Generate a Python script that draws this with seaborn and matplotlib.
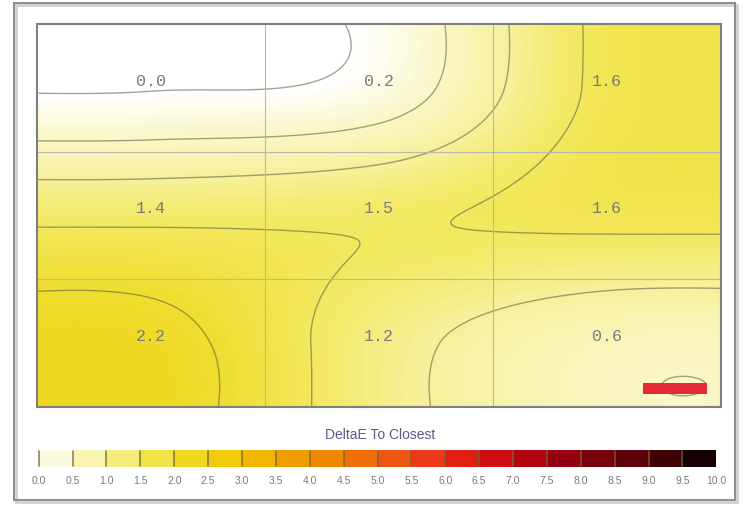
import numpy as np
import matplotlib
matplotlib.use("Agg")
import matplotlib.pyplot as plt
import seaborn as sns
from matplotlib.colors import LinearSegmentedColormap
from matplotlib.patches import Rectangle

# ---------------- data ----------------
row_values = [
    [0.0, 0.2, 1.6],
    [1.4, 1.45, 1.6],
    [2.2, 1.2, 0.617],
]
row_labels = [
    ["0.0", "0.2", "1.6"],
    ["1.4", "1.5", "1.6"],
    ["2.2", "1.2", "0.6"],
]
scale_ticks = [0.0, 0.5, 1.0, 1.5, 2.0, 2.5, 3.0, 3.5, 4.0, 4.5, 5.0,
               5.5, 6.0, 6.5, 7.0, 7.5, 8.0, 8.5, 9.0, 9.5, 10.0]
scale_tick_labels = ["0.0", "0.5", "1.0", "1.5", "2.0", "2.5", "3.0", "3.5",
                     "4.0", "4.5", "5.0", "5.5", "6.0", "6.5", "7.0", "7.5",
                     "8.0", "8.5", "9.0", "9.5", "10.0"]
scale_title = "DeltaE To Closest"
contour_levels = [0.02, 0.5, 1.0, 1.5, 2.0]

# colour ramp of the scale
ramp_stops = [0.0, 0.25, 0.5, 1.0, 1.5, 2.0, 2.5, 3.0, 3.5, 4.0, 4.5, 5.0,
              5.5, 6.0, 6.5, 7.0, 7.5, 8.0, 8.5, 9.0, 9.5, 10.0]
ramp_colors = ["#ffffff", "#fcfadc", "#faf6c2", "#f6f09a", "#f2e85c", "#efdd2e",
               "#eed318", "#f0c200", "#f0aa00", "#f09200", "#f07a00", "#ee6210",
               "#ee4a18", "#ea2c18", "#d81410", "#c00810", "#a20010", "#88000e",
               "#6c000c", "#500008", "#2c0004", "#000000"]
cmap = LinearSegmentedColormap.from_list(
    "deltae", list(zip([s / 10.0 for s in ramp_stops], ramp_colors)))

# ---------------- smooth field (bicubic, clamped edges) ----------------
Z = np.array(row_values, dtype=float)
NY, NX = 170, 300


def cubic_matrix(n, m):
    W = np.zeros((n, m))
    for k in range(n):
        s = (k + 0.5) / n * m - 0.5
        i = int(np.floor(s))
        t = s - i
        w = [-0.5 * t + t * t - 0.5 * t ** 3,
             1 - 2.5 * t * t + 1.5 * t ** 3,
             0.5 * t + 2 * t * t - 1.5 * t ** 3,
             -0.5 * t * t + 0.5 * t ** 3]
        for d, wd in zip(range(-1, 3), w):
            idx = min(max(i + d, 0), m - 1)
            W[k, idx] += wd
    return W


field = cubic_matrix(NY, 3) @ Z @ cubic_matrix(NX, 3).T

# ---------------- figure ----------------
sns.set_theme(style="white")
plt.rcParams["font.family"] = ["Liberation Sans", "DejaVu Sans"]
fig = plt.figure(figsize=(7.45, 5.06), dpi=100)
fig.patch.set_facecolor("white")

# outer frame with a soft shadow
fig.add_artist(Rectangle((16 / 745, 1 - 503 / 506), 721 / 745, 497 / 506,
                         transform=fig.transFigure, fill=False,
                         edgecolor="#d0d0d0", lw=2.0, zorder=0))
fig.add_artist(Rectangle((14 / 745, 1 - 501 / 506), 721 / 745, 497 / 506,
                         transform=fig.transFigure, fill=False,
                         edgecolor="#8c8c8c", lw=1.4, zorder=1))

ax = fig.add_axes([37 / 745, 1 - 408 / 506, 684 / 745, 383 / 506])
sns.heatmap(field, ax=ax, cmap=cmap, vmin=0, vmax=10, cbar=False,
            xticklabels=False, yticklabels=False, rasterized=True)

xs = np.arange(NX) + 0.5
ys = np.arange(NY) + 0.5
ax.contour(xs, ys, field, levels=contour_levels, colors="#5a5a40",
           linewidths=1.0, alpha=0.55)

for g in (1, 2):
    ax.axvline(NX * g / 3, color="#b8b8b0", lw=0.8)
    ax.axhline(NY * g / 3, color="#b8b8b0", lw=0.8)

for i in range(3):
    for j in range(3):
        ax.text(NX * (j + 0.5) / 3, NY * (i + 0.5) / 3 - 0.02 * NY,
                row_labels[i][j], ha="center", va="center",
                family=["Liberation Mono", "DejaVu Sans Mono"],
                fontsize=12, color="#7a7a7a")

ax.add_patch(Rectangle((0.886, 0.034), 0.094, 0.028, transform=ax.transAxes,
                       facecolor="#e5283a", edgecolor="none", zorder=5))
for sp in ax.spines.values():
    sp.set_visible(True)
    sp.set_color("#7f7f7f")
    sp.set_linewidth(1.5)

# ---------------- colour scale ----------------
cax = fig.add_axes([37 / 745, 1 - 468 / 506, 681 / 745, 17 / 506])
mids = np.array([[(a + b) / 2 for a, b in zip(scale_ticks[:-1], scale_ticks[1:])]])
sns.heatmap(mids, ax=cax, cmap=cmap, vmin=0, vmax=10, cbar=False,
            xticklabels=False, yticklabels=False)
cax.set_xlim(-0.05, len(scale_ticks) - 1 + 0.05)
for k in range(len(scale_ticks) - 1):
    cax.plot([k, k], [0.05, 0.95], color="#6a6a3a", lw=1.2, alpha=0.8)
for k, lab in enumerate(scale_tick_labels):
    cax.text(k, 1.75, lab, ha="center", va="center", fontsize=7.5,
             color="#7a7a7a")
for sp in cax.spines.values():
    sp.set_visible(False)

fig.text(380 / 745, 1 - 435 / 506, scale_title, ha="center", va="center",
         fontsize=10, color="#5a5a88")

fig.savefig("out.png", dpi=100, facecolor="white")
